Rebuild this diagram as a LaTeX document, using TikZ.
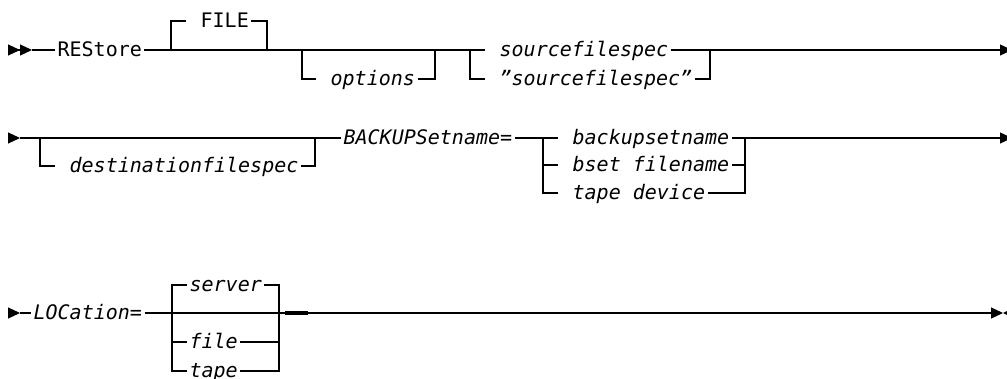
\documentclass[tikz,border=0pt]{standalone}
\usepackage{fontspec}
\setmainfont{DejaVu Sans Mono}
\usetikzlibrary{arrows.meta}

\begin{document}
\begin{tikzpicture}[x=0.5pt,y=-0.5pt,line width=0.6pt,
	txt/.style={anchor=west,inner xsep=1pt,inner ysep=0pt,text height=7pt,text depth=0pt,font=\fontsize{10pt}{12pt}\selectfont},
	var/.style={txt,font=\fontsize{10pt}{12pt}\selectfont\itshape},
	tip/.style={-{Triangle[length=6pt,width=5.5pt]}},
	start/.style={-{Triangle[length=6pt,width=5.5pt]Triangle[length=6pt,width=5.5pt]}}]

\useasboundingbox (0,0) rectangle (1007,379);

\coordinate (r1s) at (8,50);
\coordinate (r1a) at (32,50);
\node[txt]   (restore) at (55,50)      {REStore};
\coordinate (j1) at (171,50);
\coordinate (j2) at (267,50);
\node[txt]   (file) at (186,21)        {~FILE};
\coordinate (j3) at (302,50);
\coordinate (j4) at (435,50);
\node[var]   (options) at (316,79)     {~options};
\coordinate (j5) at (470,50);
\coordinate (j6) at (710,50);
\node[var]   (src) at (485,50)         {~sourcefilespec};
\node[var]   (qsrc) at (485,79)        {~\char34 sourcefilespec\char34};
\coordinate (r1e) at (1012,50);

\draw[start] (r1s) -- (r1a);
\draw (r1a) -- (restore.west)
	(restore.east) -- (src.west);
\draw[tip] (src.east) -- (r1e);
\draw (j1) |- (file.west)
	(file.east) -| (j2)
	(j3) |- (options.west)
	(options.east) -| (j4)
	(j5) |- (qsrc.west)
	(qsrc.east) -| (j6);

\coordinate (r2s) at (8,138);
\coordinate (r2a) at (20,138);
\coordinate (j7) at (40,138);
\coordinate (j8) at (315,138);
\node[var]   (dest) at (55,166)        {~destinationfilespec};
\node[var]   (bsetname) at (341,138)   {BACKUPSetname=};
\coordinate (j9) at (543,138);
\coordinate (j10) at (745,138);
\node[var]   (bsn) at (558,138)        {~backupsetname};
\node[var]   (bfn) at (558,165)        {~bset filename};
\node[var]   (tdev) at (558,193)       {~tape device};
\coordinate (r2e) at (1012,138);

\draw[tip] (r2s) -- (r2a);
\draw (r2a) -- (bsetname.west)
	(bsetname.east) -- (bsn.west);
\draw[tip] (bsn.east) -- (r2e);
\draw (j7) |- (dest.west)
	(dest.east) -| (j8)
	(j9) |- (bfn.west)
	(j9) |- (tdev.west)
	(bfn.east) -| (j10)
	(tdev.east) -| (j10);

\coordinate (r3s) at (8,313);
\coordinate (r3a) at (20,313);
\node[var]   (loc) at (31,313)         {LOCation=};
\coordinate (j11) at (172,313);
\coordinate (j12) at (279,313);
\node[var]   (server) at (187,285)     {server};
\node[var]   (sfile) at (187,342)      {file};
\node[var]   (stape) at (187,371)      {tape};
\coordinate (t1) at (285,313);
\coordinate (t2) at (308,313);
\coordinate (r3e) at (1003,313);
\coordinate (r3x) at (1020,313);

\draw[tip] (r3s) -- (r3a);
\draw (r3a) -- (loc.west);
\draw[tip] (loc.east) -- (r3e);
\draw[tip] (r3x) -- (r3e);
\draw (j11) |- (server.west)
	(server.east) -| (j12)
	(j11) |- (sfile.west)
	(sfile.east) -| (j12)
	(j11) |- (stape.west)
	(stape.east) -| (j12);
\draw[line width=1.6pt] (t1) -- (t2);

\end{tikzpicture}
\end{document}
